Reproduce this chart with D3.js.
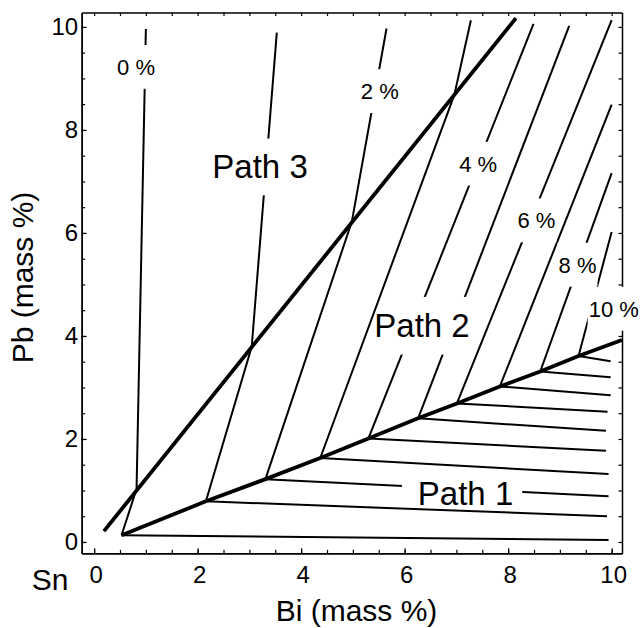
<!DOCTYPE html>
<html>
<head>
<meta charset="utf-8">
<script src="https://cdn.jsdelivr.net/npm/d3@7"></script>
<style>
  body { margin: 0; background: #fff; }
  svg { display: block; font-family: "Liberation Sans", Arial, Helvetica, sans-serif; }
</style>
</head>
<body>
<svg id="chart" width="640" height="628"></svg>
<script>
// axis extents, Bi and Pb in mass %
const xExtent = [-0.24, 10.2]
const yExtent = [-0.22, 10.28]
const xTicks = [0, 2, 4, 6, 8, 10]
const yTicks = [0, 2, 4, 6, 8, 10]
const minorTicks = [0, 0.5, 1, 1.5, 2, 2.5, 3, 3.5, 4, 4.5, 5, 5.5, 6, 6.5, 7, 7.5, 8, 8.5, 9, 9.5, 10]

// thick line between Path 1 and Path 2 (corners where the lines meet)
const boundary = [[0.53, 0.13], [2.16, 0.79], [3.31, 1.22], [4.37, 1.63], [5.30, 2.01], [6.26, 2.40],
  [7.01, 2.69], [7.84, 3.02], [8.62, 3.31], [9.36, 3.61], [10.2, 3.92]]

// right end of each Path 1 tie line, one per corner
const tieEnds = [[9.94, 0.04], [9.91, 0.50], [9.94, 0.89], [9.94, 1.32], [9.89, 1.77], [9.89, 2.16],
  [9.92, 2.53], [9.98, 2.85], [9.98, 3.20], [9.98, 3.51]]

// Path 2 lines (0 %, 1 %, ... 9 %), going up from each corner
const isoLines = [
  [[0.82, 1.03], [1.0, 9.96]],
  [[3.045, 3.79], [3.53, 9.89]],
  [[4.98, 6.22], [5.65, 9.97]],
  [[6.96, 8.68], [7.28, 10.13]],
  [[8.49, 10.06]],
  [[9.18, 10.02]],
  [[10.0, 10.13]],
  [[10.0, 8.49]],
  [[10.0, 7.16]],
  [[10.0, 6.02]]
]

// thick Path 3 line
const path3Line = [[0.19, 0.21], [8.15, 10.17]]

const pctLabels = ['0 %', '2 %', '4 %', '6 %', '8 %', '10 %']
const pctPos = [[0.81, 9.07], [5.52, 8.60], [7.42, 7.19], [8.545, 6.09], [9.34, 5.23], [10.04, 4.374]]
const pathLabels = ['Path 1', 'Path 2', 'Path 3']
const pathPos = [[7.177, 0.718], [6.336, 3.986], [3.206, 7.06]]

const frame = { left: 81.7, right: 622, top: 12.5, bottom: 553.3 }
// white gap round each label: top, right, bottom, left
const pctPad = [14, 1, 14, 1]
const pathPad = [[0, 9, 1, 16], [16, 0, 18, -10], [16, 4, 17, 4]]

const svg = d3.select('#chart')

const x = d3.scaleLinear().domain(xExtent).range([frame.left, frame.right])
const y = d3.scaleLinear().domain(yExtent).range([frame.bottom, frame.top])

function styleAxis (g) {
  g.attr('font-size', 24).attr('font-family', null).attr('color', '#000')
  g.select('.domain').attr('stroke-width', 1.5)
  g.selectAll('.tick line').attr('stroke-width', 1.2)
}

// ticks on all four sides, pointing in
svg.append('g').attr('transform', `translate(0,${frame.bottom})`)
  .call(d3.axisBottom(x).tickValues(minorTicks).tickSize(-3.5).tickSizeOuter(0).tickFormat(''))
  .call(styleAxis)
svg.append('g').attr('transform', `translate(0,${frame.top})`)
  .call(d3.axisTop(x).tickValues(minorTicks).tickSize(-3.5).tickSizeOuter(0).tickFormat(''))
  .call(styleAxis)
svg.append('g').attr('transform', `translate(${frame.left},0)`)
  .call(d3.axisLeft(y).tickValues(minorTicks).tickSize(-3.5).tickSizeOuter(0).tickFormat(''))
  .call(styleAxis)
svg.append('g').attr('transform', `translate(${frame.right},0)`)
  .call(d3.axisRight(y).tickValues(minorTicks).tickSize(-3.5).tickSizeOuter(0).tickFormat(''))
  .call(styleAxis)

svg.append('g').attr('transform', `translate(0,${frame.bottom})`)
  .call(d3.axisBottom(x).tickValues(xTicks).tickSize(-5).tickSizeOuter(0).tickPadding(12.5))
  .call(styleAxis)
  .selectAll('text').attr('dx', 1.5)
svg.append('g').attr('transform', `translate(${frame.left},0)`)
  .call(d3.axisLeft(y).tickValues(yTicks).tickSize(-5).tickSizeOuter(0).tickPadding(3.5))
  .call(styleAxis)

const line = d3.line().x(d => x(d[0])).y(d => y(d[1]))
const plot = svg.append('g').attr('fill', 'none').attr('stroke', '#000')

// Path 1 tie lines
plot.selectAll('.tie')
  .data(tieEnds)
  .enter().append('path')
  .attr('class', 'tie')
  .attr('d', (d, i) => line([boundary[i], d]))
  .attr('stroke-width', 2)

// Path 2 lines
plot.selectAll('.iso')
  .data(isoLines)
  .enter().append('path')
  .attr('class', 'iso')
  .attr('d', (d, i) => line([boundary[i]].concat(d)))
  .attr('stroke-width', 2)

plot.append('path').attr('d', line(boundary)).attr('stroke-width', 3.8)
plot.append('path').attr('d', line(path3Line)).attr('stroke-width', 3.8)

// labels sit on a white patch that cuts the lines under them
function addLabel (text, pos, size, pad) {
  const g = svg.append('g')
  const t = g.append('text')
    .attr('x', x(pos[0]))
    .attr('y', y(pos[1]))
    .attr('text-anchor', 'middle')
    .attr('font-size', size)
    .text(text)
  const w = t.node().getComputedTextLength()
  const cap = 0.72 * size
  g.insert('rect', 'text')
    .attr('x', x(pos[0]) - w / 2 - pad[3])
    .attr('y', y(pos[1]) - cap - pad[0])
    .attr('width', w + pad[1] + pad[3])
    .attr('height', cap + pad[0] + pad[2])
    .attr('fill', '#fff')
}

pctLabels.forEach((d, i) => addLabel(d, pctPos[i], 22, pctPad))
pathLabels.forEach((d, i) => addLabel(d, pathPos[i], 33, pathPad[i]))

// axis titles
svg.append('text')
  .attr('x', 356.5).attr('y', 621)
  .attr('text-anchor', 'middle').attr('font-size', 30)
  .text('Bi (mass %)')
svg.append('text')
  .attr('transform', 'translate(33.3,277.5) rotate(-90)')
  .attr('text-anchor', 'middle').attr('font-size', 30)
  .text('Pb (mass %)')
svg.append('text')
  .attr('x', 31.7).attr('y', 590)
  .attr('font-size', 30)
  .text('Sn')
</script>
</body>
</html>
